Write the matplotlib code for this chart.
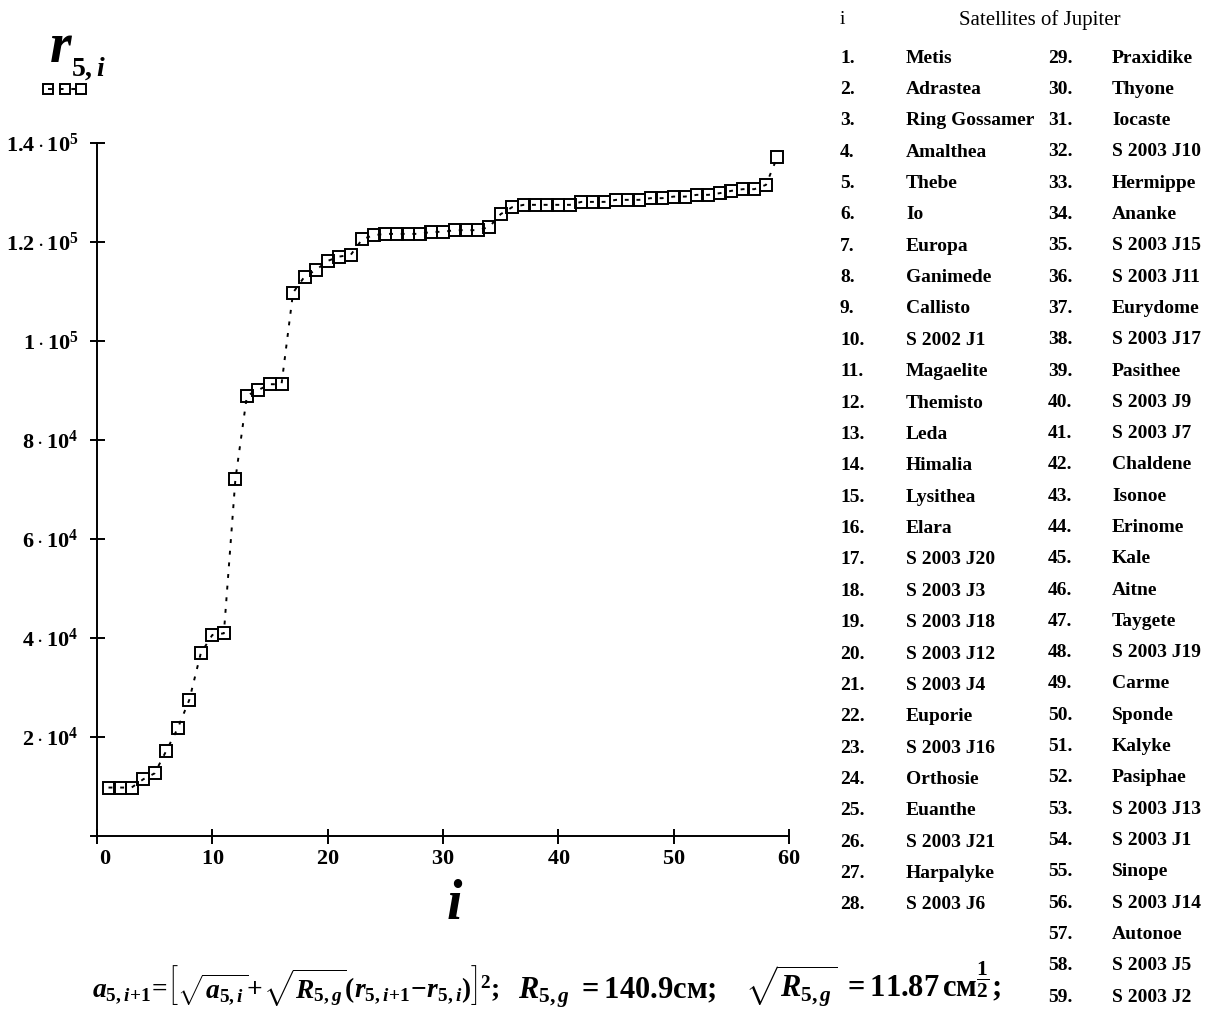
import numpy as np
import matplotlib.pyplot as plt
from matplotlib.ticker import FuncFormatter
from matplotlib.transforms import ScaledTranslation

plt.rcParams['font.family'] = 'Liberation Serif'
plt.rcParams['mathtext.fontset'] = 'custom'
plt.rcParams['mathtext.rm'] = 'Liberation Serif:bold'
plt.rcParams['mathtext.it'] = 'Liberation Serif:italic:bold'
plt.rcParams['mathtext.bf'] = 'Liberation Serif:bold'

# satellite number and its r_5,i value
i_sat = np.arange(1, 60)
r5 = [9700, 9700, 9700, 11360, 12580, 17090, 21680, 27400, 36840, 40540,
      40880, 72020, 88930, 90080, 91230, 91230, 109750, 112990, 114340, 116160,
      117030, 117380, 120550, 121360, 121620, 121620, 121620, 121620, 122030, 122030,
      122370, 122370, 122370, 122980, 125610, 127020, 127490, 127490, 127490, 127490,
      127490, 128090, 128090, 128090, 128500, 128500, 128500, 128840, 128840, 129160,
      129160, 129510, 129510, 129850, 130320, 130660, 130660, 131530, 137250]

names = ["Metis", "Adrastea", "Ring Gossamer", "Amalthea", "Thebe", "Io", "Europa",
         "Ganimede", "Callisto", "S 2002 J1", "Magaelite", "Themisto", "Leda",
         "Himalia", "Lysithea", "Elara", "S 2003 J20", "S 2003 J3", "S 2003 J18",
         "S 2003 J12", "S 2003 J4", "Euporie", "S 2003 J16", "Orthosie", "Euanthe",
         "S 2003 J21", "Harpalyke", "S 2003 J6", "Praxidike", "Thyone", "Iocaste",
         "S 2003 J10", "Hermippe", "Ananke", "S 2003 J15", "S 2003 J11", "Eurydome",
         "S 2003 J17", "Pasithee", "S 2003 J9", "S 2003 J7", "Chaldene", "Isonoe",
         "Erinome", "Kale", "Aitne", "Taygete", "S 2003 J19", "Carme", "Sponde",
         "Kalyke", "Pasiphae", "S 2003 J13", "S 2003 J1", "Sinope", "S 2003 J14",
         "Autonoe", "S 2003 J5", "S 2003 J2"]

x_ticks = [0, 10, 20, 30, 40, 50, 60]
y_ticks = [20000, 40000, 60000, 80000, 100000, 120000, 140000]

W, H = 1205, 1011
fig = plt.figure(figsize=(W / 100, H / 100), dpi=100)
ax = fig.add_axes([0.0757, 0.1711, 0.5791, 0.6875])

line, = ax.plot(i_sat, r5, color='black', lw=1.4, ls=(0, (2, 4)),
                marker='s', ms=8.5, mfc='none', mec='black', mew=1.4)

ax.set_xlim(-0.5, 60)
ax.set_ylim(-500, 140000)
for s in ['top', 'right']:
    ax.spines[s].set_visible(False)
ax.spines['left'].set_position(('data', 0))
ax.spines['bottom'].set_position(('data', 0))
for s in ['left', 'bottom']:
    ax.spines[s].set_linewidth(1.4)

ax.set_xticks(x_ticks)
ax.set_yticks(y_ticks)


def sci_label(v, pos):
    e = int(np.floor(np.log10(v)))
    m = v / 10 ** e
    return r'$%s\cdot10^{%d}$' % (('%.1f' % m).rstrip('0').rstrip('.'), e)


ax.yaxis.set_major_formatter(FuncFormatter(sci_label))
ax.xaxis.set_major_formatter(FuncFormatter(lambda v, p: r'$%d$' % v))
ax.tick_params(direction='inout', length=10.8, width=1.4, labelsize=16)
ax.tick_params(axis='y', pad=8)
ax.tick_params(axis='x', pad=5)

# the "0" label sits a little right of its tick
fig.canvas.draw()
lbl0 = ax.get_xticklabels()[0]
lbl0.set_transform(lbl0.get_transform() + ScaledTranslation(8 / 100, 0, fig.dpi_scale_trans))

# axis titles
fig.text(49 / W, 1 - 62 / H, r'$r$', fontsize=40, ha='left', va='baseline')
fig.text(71 / W, 1 - 76 / H, r'$5,i$', fontsize=20, ha='left', va='baseline')
fig.text(455 / W, 1 - 905 / H, r'$i$', fontsize=40, ha='center', va='center')

# trace key under the y title
ax.legend([line], [''], numpoints=3, markerscale=0.9, frameon=False,
          handlelength=3.0, handletextpad=0, borderpad=0, fontsize=10,
          loc='center left', bbox_to_anchor=(37 / W, 1 - 90 / H),
          bbox_transform=fig.transFigure)

# satellites table
fig.text(840 / W, 1 - 20 / H, 'i', fontsize=14, va='center')
fig.text(1040 / W, 1 - 20 / H, 'Satellites of Jupiter', fontsize=15,
         ha='center', va='center')
for k, name in enumerate(names):
    if k < 28:
        y = 58 + k * 31.37
        xn, xs = 840, 906
    else:
        y = 58 + (k - 28) * 31.3
        xn, xs = 1048, 1112
    fig.text(xn / W, 1 - y / H, '%d.' % (k + 1), fontsize=14,
             fontweight='bold', va='center')
    fig.text(xs / W, 1 - y / H, name, fontsize=14, fontweight='bold',
             va='center')

# formula line
fig.text(92 / W, 1 - 998 / H,
         r'$a_{5,i\!+\!1}\!=\!\left[\sqrt{a_{5,i}}\!+\!\sqrt{R_{5,g}}(r_{5,i\!+\!1}\!-\!r_{5,i})\right]^{2};$',
         fontsize=19.8, va='baseline')
fig.text(518 / W, 1 - 998 / H, r'$R_{5,g}\ =140.9\mathrm{см};$',
         fontsize=22, va='baseline')
fig.text(745 / W, 1 - 998 / H, r'$\sqrt{R_{5,g}}\ =11.87\,\mathrm{см}^{\dfrac{1}{2}};$',
         fontsize=22, va='baseline')

fig.savefig('out.png', dpi=100)
